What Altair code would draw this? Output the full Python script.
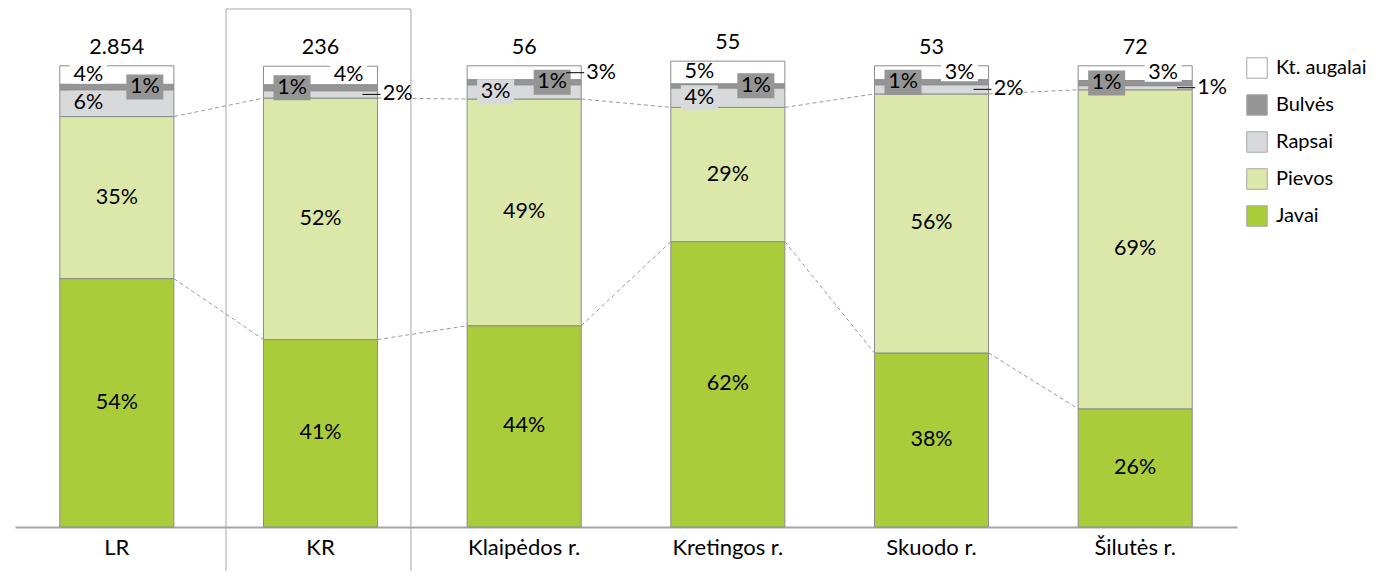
import altair as alt
import pandas as pd

cats = ["LR", "KR", "Klaipėdos r.", "Kretingos r.", "Skuodo r.", "Šilutės r."]
totals = ["2.854", "236", "56", "55", "53", "72"]
series = ["Javai", "Pievos", "Rapsai", "Bulvės", "Kt. augalai"]
javai = [53.8, 40.6, 43.6, 61.8, 37.7, 25.6]
pievos = [35.1, 52.3, 49.1, 29.1, 56.1, 69.1]
rapsai = [5.8, 1.6, 3.1, 4.2, 2.0, 0.9]
bulves = [1.2, 1.3, 1.1, 0.9, 1.1, 1.1]
kt_augalai = [4.0, 4.0, 3.0, 4.9, 3.0, 3.2]

# label placement: c = centre, l = left, r = right, o = outside with leader line
pos_javai = ["c"] * 6
pos_pievos = ["c"] * 6
pos_rapsai = ["l", "o", "l", "l", "o", "o"]
pos_bulves = ["r", "l", "r", "r", "l", "l"]
pos_kt = ["l", "r", "o", "l", "r", "r"]

legend_order = ["Kt. augalai", "Bulvės", "Rapsai", "Pievos", "Javai"]
color_map = {"Kt. augalai": "#FFFFFF", "Bulvės": "#959595", "Rapsai": "#D8D9DB",
             "Pievos": "#DBE8A9", "Javai": "#AACC3A"}

values = [javai, pievos, rapsai, bulves, kt_augalai]
positions = [pos_javai, pos_pievos, pos_rapsai, pos_bulves, pos_kt]

rows = []
for s_i, s in enumerate(series):
    for c_i, c in enumerate(cats):
        rows.append({"cat": c, "series": s, "value": values[s_i][c_i], "ord": s_i,
                     "pos": positions[s_i][c_i], "total": totals[c_i]})
df = pd.DataFrame(rows)

conn = []
for i in range(len(cats) - 1):
    conn.append({"cat": cats[i], "next": cats[i + 1], "v1": javai[i], "v2": javai[i + 1]})
    conn.append({"cat": cats[i], "next": cats[i + 1],
                 "v1": javai[i] + pievos[i], "v2": javai[i + 1] + pievos[i + 1]})
conn_df = pd.DataFrame(conn)
box_df = pd.DataFrame({"cat": ["KR"]})

W, H = 1222, 518
FONT = "Lato"
FS = 21.5
FS_AX = 22
FS_LEG = 20

x_scale = alt.Scale(domain=cats, paddingInner=0, paddingOuter=0)
x_axis = alt.Axis(title=None, ticks=False, tickSize=0, labelAngle=0, labelFontSize=FS_AX,
                  labelFont=FONT, labelColor="#000000", labelPadding=10,
                  domainColor="#A6A6A6", domainWidth=2, grid=False)


def X(bp=0.5, field="cat"):
    return alt.X(f"{field}:N", bandPosition=bp, scale=x_scale, axis=x_axis, title=None)


y_scale = alt.Scale(domain=[0, 112.2], nice=False, zero=True)

base = alt.Chart(df).transform_stack(
    stack="value", groupby=["cat"], as_=["y0", "y1"],
    sort=[alt.SortField("ord", order="ascending")]
).transform_calculate(
    mid="(datum.y0 + datum.y1) / 2",
    label="round(datum.value) + '%'"
)

bars = base.mark_bar(width=alt.RelativeBandSize(0.56), stroke="#8C8C8C", strokeWidth=1).encode(
    x=X(),
    y=alt.Y("y0:Q", scale=y_scale, axis=None, title=None),
    y2="y1:Q",
    color=alt.Color("series:N",
                    scale=alt.Scale(domain=legend_order, range=[color_map[s] for s in legend_order]),
                    legend=alt.Legend(title=None, orient="none", legendX=1231, legendY=48,
                                      symbolType="square", symbolSize=420,
                                      symbolStrokeColor="#A6A6A6", symbolStrokeWidth=1,
                                      symbolOpacity=1, labelFontSize=FS_LEG, labelFont=FONT,
                                      labelColor="#000000", rowPadding=11, labelOffset=8)),
)

connectors = alt.Chart(conn_df).mark_rule(color="#9A9A9A", strokeWidth=1, strokeDash=[4, 3]).encode(
    x=X(0.78),
    x2=alt.X2("next:N", bandPosition=0.22),
    y=alt.Y("v1:Q", scale=y_scale, axis=None, title=None),
    y2="v2:Q",
)

box_left = alt.Chart(box_df).mark_rule(color="#A6A6A6", strokeWidth=1).encode(
    x=X(0.036), y=alt.value(0), y2=alt.value(H + 44))
box_right = alt.Chart(box_df).mark_rule(color="#A6A6A6", strokeWidth=1).encode(
    x=X(0.944), y=alt.value(0), y2=alt.value(H + 44))
box_top = alt.Chart(box_df).mark_rule(color="#A6A6A6", strokeWidth=1).encode(
    x=X(0.036), x2=alt.X2("cat:N", bandPosition=0.944), y=alt.value(0))

R = 12.0  # symbol unit radius for size 576


def box_path(cx, w, top, bot):
    x0 = (cx - w / 2) / R
    x1 = (cx + w / 2) / R
    y0 = -top / R
    y1 = bot / R
    return f"M{x0:.3f},{y0:.3f}L{x1:.3f},{y0:.3f}L{x1:.3f},{y1:.3f}L{x0:.3f},{y1:.3f}Z"


DX = {"c": 0, "l": -28.5, "r": 28, "o": 77}
box_h = {"Kt. augalai": (10.5, 8.5), "Bulvės": (12.5, 12.5), "Rapsai": (12.5, 12.5)}

boxes = []
for s in ["Rapsai", "Bulvės", "Kt. augalai"]:
    for p in ["l", "r"]:
        t, b = box_h[s]
        boxes.append(
            base.transform_filter(f"datum.series == '{s}' && datum.pos == '{p}'").mark_point(
                shape=box_path(DX[p], 37, t, b), size=576, filled=True, fill=color_map[s],
                opacity=1, strokeWidth=0).encode(
                x=X(), y=alt.Y("mid:Q", scale=y_scale, axis=None, title=None))
        )

leaders = base.transform_filter("datum.pos == 'o'").mark_point(
    shape="M3.5,0L5,0", size=576, filled=False, stroke="#000000", strokeWidth=1, opacity=1
).encode(x=X(), y=alt.Y("mid:Q", scale=y_scale, axis=None, title=None))

texts = []
for p in ["c", "l", "r", "o"]:
    texts.append(
        base.transform_filter(f"datum.pos == '{p}'").mark_text(
            dx=DX[p], baseline="middle", align="center", fontSize=FS, font=FONT, color="#000000"
        ).encode(x=X(), y=alt.Y("mid:Q", scale=y_scale, axis=None, title=None), text="label:N")
    )

total_text = alt.Chart(df).transform_aggregate(
    top="sum(value)", groupby=["cat", "total"]
).mark_text(dy=-12, baseline="alphabetic", align="center", fontSize=FS, font=FONT,
            color="#000000").encode(
    x=X(), y=alt.Y("top:Q", scale=y_scale, axis=None, title=None), text="total:N")

chart = alt.layer(
    bars, connectors, box_left, box_right, box_top, *boxes, leaders, *texts, total_text
).properties(
    width=W, height=H,
    padding={"left": 7, "top": 0, "right": 5, "bottom": 0},
    background="#FFFFFF",
).configure_view(stroke=None)

chart.save("out.html", embed_options={"renderer": "svg", "actions": False})
